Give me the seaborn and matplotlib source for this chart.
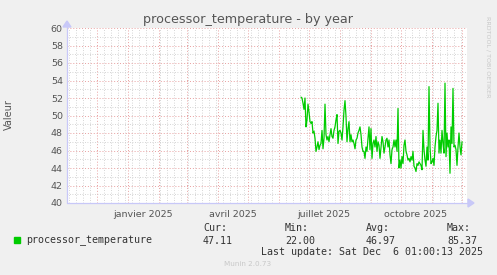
import numpy as np
import pandas as pd
import matplotlib
matplotlib.use("Agg")
import matplotlib.pyplot as plt
import matplotlib.dates as mdates
from matplotlib.ticker import MultipleLocator
import seaborn as sns

# ---- data ----
start_date = "2025-06-23"
temperature = [
    52.1, 52.0, 51.4, 50.7, 52.0, 48.7, 49.5, 51.3, 50.4, 49.3, 49.1, 49.3, 48.0, 48.2,
    47.4, 45.9, 46.4, 47.0, 46.1, 46.6, 46.8, 48.3, 46.2, 47.4, 51.3, 47.8, 47.2, 47.6,
    47.0, 47.8, 48.5, 47.6, 47.4, 48.3, 48.7, 49.5, 50.1, 46.8, 48.2, 48.3, 48.0, 47.2,
    48.7, 50.6, 51.7, 49.9, 47.0, 48.5, 49.3, 47.0, 47.8, 47.0, 47.2, 46.8, 46.2, 47.2,
    47.4, 48.0, 48.3, 48.7, 47.8, 46.4, 45.9, 45.9, 45.1, 46.4, 45.9, 47.4, 48.7, 46.1,
    48.5, 45.1, 46.8, 47.2, 46.4, 47.6, 45.9, 47.0, 46.6, 45.1, 46.4, 47.6, 47.0, 45.7,
    46.4, 47.2, 47.4, 46.4, 47.2, 45.5, 44.5, 46.1, 46.4, 47.2, 46.4, 47.2, 45.9, 50.8,
    44.0, 44.9, 44.0, 45.3, 44.5, 46.6, 47.2, 45.9, 45.5, 44.9, 45.1, 44.7, 45.3, 44.9,
    45.9, 44.2, 44.0, 43.6, 44.5, 44.3, 44.7, 44.5, 44.3, 43.8, 48.3, 46.1, 44.9, 44.2,
    46.4, 44.9, 53.3, 46.4, 44.5, 44.7, 45.1, 44.3, 46.4, 47.6, 48.3, 51.4, 45.7, 47.2,
    45.7, 48.3, 46.8, 45.7, 53.7, 45.3, 48.0, 46.4, 47.2, 43.4, 48.7, 46.8, 53.1, 46.4,
    46.6, 46.1, 44.3, 46.4, 48.0, 46.4, 45.5, 47.0,
]
month_labels = ["janvier 2025", "avril 2025", "juillet 2025", "octobre 2025"]
label_dates = ["2025-01-16", "2025-04-16", "2025-07-16", "2025-10-16"]
series_name = "processor_temperature"
stat_names = ["Cur:", "Min:", "Avg:", "Max:"]
stat_values = ["47.11", "22.00", "46.97", "85.37"]
x_start, x_end = "2024-11-01", "2025-12-06"
y_min, y_max = 40, 60

df = pd.DataFrame({
    "date": pd.date_range(start_date, periods=len(temperature), freq="D"),
    "value": temperature,
})

sns.set_style("white")
plt.rcParams["font.family"] = ["DejaVu Sans"]

BG = "#F0F0F0"
fig = plt.figure(figsize=(4.97, 2.75), dpi=100, facecolor=BG)
ax = fig.add_axes([67 / 497, 72 / 275, 400 / 497, 175 / 275])
ax.set_facecolor("white")

sns.lineplot(data=df, x="date", y="value", ax=ax, color="#00CC00", linewidth=0.9)

ax.set_xlim(pd.Timestamp(x_start), pd.Timestamp(x_end))
ax.set_ylim(y_min, y_max)

# grids
ax.xaxis.set_major_locator(mdates.MonthLocator())
ax.xaxis.set_minor_locator(mdates.WeekdayLocator(byweekday=mdates.SU))
ax.yaxis.set_major_locator(MultipleLocator(2))
ax.yaxis.set_minor_locator(MultipleLocator(1))
ax.grid(which="minor", color="#C8C8C8", linestyle=(0, (1, 2)), linewidth=0.6)
ax.grid(which="major", color="#E8A0A0", linestyle=(0, (1, 2)), linewidth=0.7)
ax.set_axisbelow(True)

ax.tick_params(axis="x", which="both", length=0, labelbottom=False)
ax.tick_params(axis="y", which="major", length=0, labelsize=6.8, labelcolor="#555555", pad=3)
ax.tick_params(axis="y", which="minor", length=0)

for d, lab in zip(label_dates, month_labels):
    ax.text(pd.Timestamp(d), y_min - 0.85, lab, ha="center", va="top",
            fontsize=6.8, color="#555555")

for s in ax.spines.values():
    s.set_visible(False)

ax.set_xlabel("")
ax.set_ylabel("")

# axes with arrows (light blue)
axis_col = "#C8C8F8"
fig.add_artist(plt.Line2D([67 / 497, 470 / 497], [72 / 275, 72 / 275], color=axis_col, lw=0.9))
fig.add_artist(plt.Line2D([67 / 497, 67 / 497], [72 / 275, 250 / 275], color=axis_col, lw=0.9))
fig.add_artist(plt.Polygon([[468 / 497, 76 / 275], [468 / 497, 68 / 275], [474 / 497, 72 / 275]],
                           closed=True, color=axis_col, transform=fig.transFigure))
fig.add_artist(plt.Polygon([[63 / 497, 248 / 275], [71 / 497, 248 / 275], [67 / 497, 254 / 275]],
                           closed=True, color=axis_col, transform=fig.transFigure))

# title and labels
fig.text(248 / 497, 1 - 19 / 275, "processor_temperature - by year", ha="center", va="center",
         fontsize=9.2, color="#555555")
fig.text(9 / 497, 1 - 115 / 275, "Valeur", rotation=90, ha="center", va="center",
         fontsize=7, color="#555555")
fig.text(488 / 497, 1 - 57 / 275, "RRDTOOL / TOBI OETIKER", rotation=270, ha="center",
         va="center", fontsize=4.6, color="#C8C8C8")

# legend
mono = "DejaVu Sans Mono"
fig.add_artist(plt.Rectangle((14 / 497, 1 - 243 / 275), 6 / 497, 6 / 275, color="#00CC00",
                             transform=fig.transFigure))
fig.text(26 / 497, 1 - 240.5 / 275, series_name, family=mono, fontsize=7.2,
         color="#333333", ha="left", va="center")
stat_x = [203, 285, 366, 447]
for xx, nm, val in zip(stat_x, stat_names, stat_values):
    fig.text(xx / 497, 1 - 228 / 275, nm, family=mono, fontsize=7.2, color="#333333",
             ha="left", va="center")
    fig.text(xx / 497, 1 - 240.5 / 275, val, family=mono, fontsize=7.2, color="#333333",
             ha="left", va="center")
fig.text(483 / 497, 1 - 252 / 275, "Last update: Sat Dec  6 01:00:13 2025", family=mono,
         fontsize=7.2, color="#333333", ha="right", va="center")
fig.text(248 / 497, 1 - 264 / 275, "Munin 2.0.73", fontsize=5.2, color="#C8C8C8",
         ha="center", va="center")

fig.savefig("out.png", dpi=100, facecolor=BG)
